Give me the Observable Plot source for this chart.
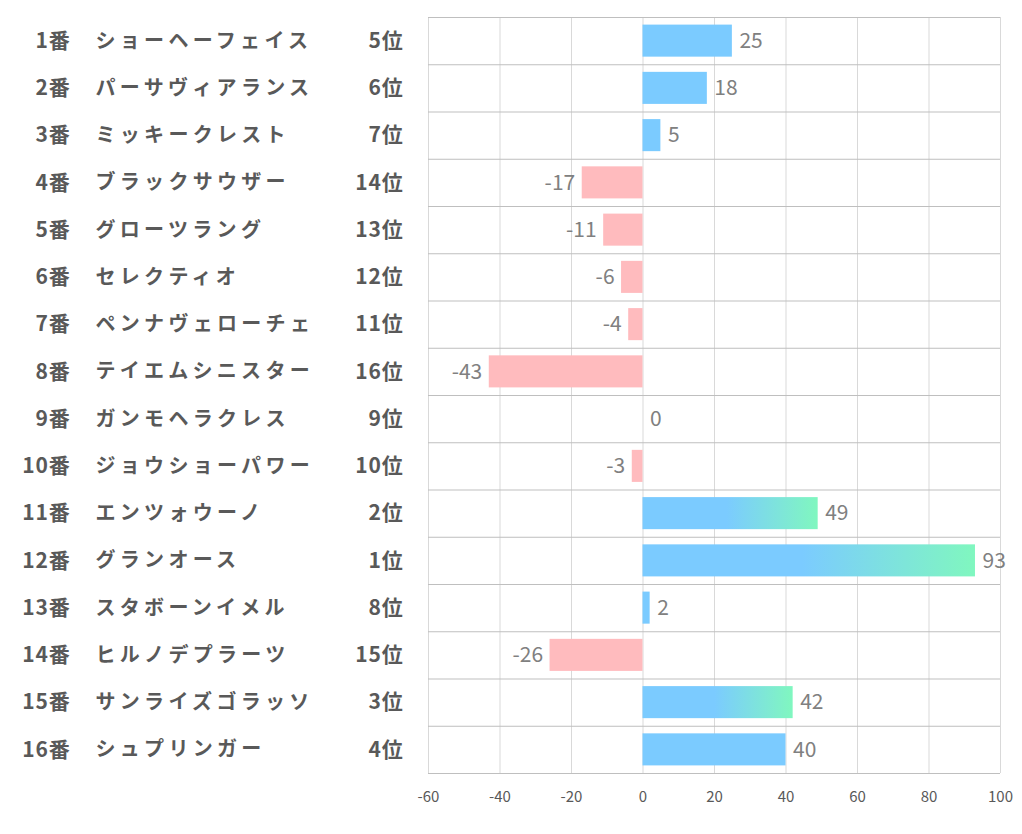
<!DOCTYPE html>
<html><head><meta charset="utf-8">
<script src="https://cdn.jsdelivr.net/npm/d3@7"></script>
<script src="https://cdn.jsdelivr.net/npm/@observablehq/plot@0.6"></script>
<style>
body{margin:0;background:#fff;}
#chart{position:absolute;left:0;top:0;}
</style>
</head><body><div id="chart"></div>
<script>
const nums = ["1番","2番","3番","4番","5番","6番","7番","8番","9番","10番","11番","12番","13番","14番","15番","16番"];
const names = ["ショーヘーフェイス","パーサヴィアランス","ミッキークレスト","ブラックサウザー","グローツラング","セレクティオ","ペンナヴェローチェ","テイエムシニスター","ガンモヘラクレス","ジョウショーパワー","エンツォウーノ","グランオース","スタボーンイメル","ヒルノデプラーツ","サンライズゴラッソ","シュプリンガー"];
const ranks = [5,6,7,14,13,12,11,16,9,10,2,1,8,15,3,4];
const values = [25,18,5,-17,-11,-6,-4,-43,0,-3,49,93,2,-26,42,40];
const xTicks = [-60,-40,-20,0,20,40,60,80,100];

const data = nums.map((n,i)=>({i, num:n, name:names[i], rank:ranks[i], value:values[i]}));
const blue = "#7BCBFF", pink = "#FFBBBE", green = "#80F7BF";
const jp = "'Noto Sans CJK JP', sans-serif";

const svg = Plot.plot({
  width: 1022, height: 834,
  marginLeft: 428, marginRight: 22, marginTop: 17, marginBottom: 61,
  style: {fontFamily: jp, background: "#fff"},
  x: {domain: [-60, 100], label: null},
  y: {domain: [16, 0], axis: null},
  marks: [
    Plot.ruleX(xTicks, {stroke: "#d9d9d9", strokeWidth: 1}),
    Plot.ruleY(d3.range(0, 17), {stroke: "#bfbfbf", strokeWidth: 1}),
    Plot.rectX(data.filter(d=>d.value<0), {x1: 0, x2: "value", y1: "i", y2: d=>d.i+1, insetTop: 7.6, insetBottom: 7.6, fill: pink}),
    Plot.rectX(data.filter(d=>d.value>0 && d.rank>3), {x1: 0, x2: "value", y1: "i", y2: d=>d.i+1, insetTop: 7.6, insetBottom: 7.6, fill: blue}),
    Plot.rectX(data.filter(d=>d.value>0 && d.rank<=3), {x1: 0, x2: "value", y1: "i", y2: d=>d.i+1, insetTop: 7.6, insetBottom: 7.6, fill: "url(#topgrad)"}),
    Plot.text(data.filter(d=>d.value>=0), {x: "value", y: d=>d.i+0.5, text: d=>String(d.value), textAnchor: "start", dx: 7, fill: "#808080", fontSize: 21}),
    Plot.text(data.filter(d=>d.value<0), {x: "value", y: d=>d.i+0.5, text: d=>String(d.value), textAnchor: "end", dx: -7, fill: "#808080", fontSize: 21}),
    Plot.text(data, {frameAnchor: "left", y: d=>d.i+0.5, text: "num", textAnchor: "end", dx: -358, fill: "#595959", fontSize: 21, fontWeight: "bold", className: "lbl-num"}),
    Plot.text(data, {frameAnchor: "left", y: d=>d.i+0.5, text: "name", textAnchor: "start", dx: -333, fill: "#595959", fontSize: 20, fontWeight: "bold", className: "lbl-name"}),
    Plot.text(data, {frameAnchor: "left", y: d=>d.i+0.5, text: d=>d.rank+"位", textAnchor: "end", dx: -25, fill: "#595959", fontSize: 21, fontWeight: "bold", className: "lbl-rank"}),
    Plot.axisX({ticks: xTicks, tickSize: 0, tickPadding: 18, color: "#595959", tickFormat: d=>String(d), label: null}),
    Plot.ruleY([16], {stroke: "#bfbfbf", strokeWidth: 1})
  ]
});
const defs = d3.select(svg).insert("defs", ":first-child");
const g = defs.append("linearGradient").attr("id","topgrad").attr("x1","0").attr("x2","1").attr("y1","0").attr("y2","0");
g.append("stop").attr("offset","0").attr("stop-color",blue);
g.append("stop").attr("offset","0.48").attr("stop-color",blue);
g.append("stop").attr("offset","1").attr("stop-color",green);
d3.select(svg).selectAll(".lbl-name").style("letter-spacing", "4.3px");
d3.select(svg).selectAll(".lbl-num, .lbl-rank").style("letter-spacing", "0.8px");
d3.select(svg).selectAll('g[aria-label="x-axis tick label"]').attr("font-size", 15).selectAll("text").style("font-size", "15px");
document.getElementById("chart").appendChild(svg);
</script></body></html>
